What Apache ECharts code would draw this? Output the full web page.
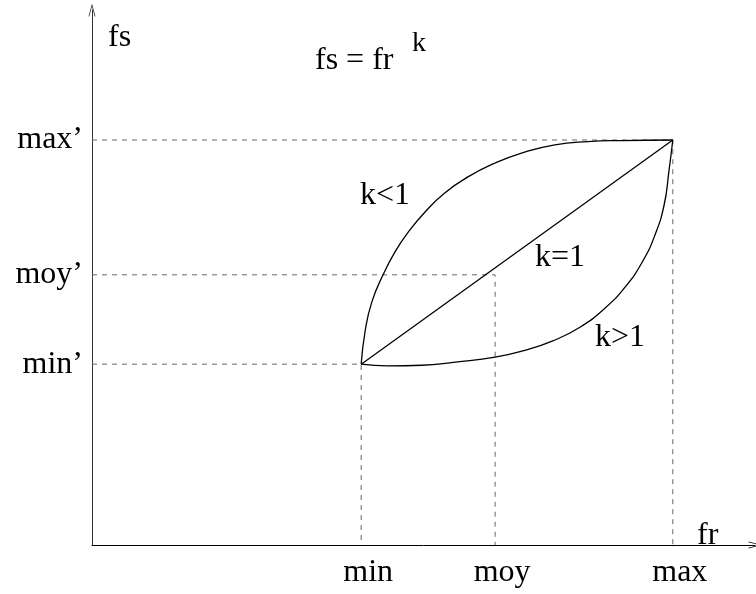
<!DOCTYPE html>
<html>
<head>
<meta charset="utf-8">
<script src="https://cdn.jsdelivr.net/npm/echarts@6/dist/echarts.min.js"></script>
<style>
  html, body { margin: 0; padding: 0; background: #fff; }
  #chart { width: 756px; height: 594px; }
</style>
</head>
<body>
<div id="chart"></div>
<script>
// axis marks (fr horizontal, fs vertical), in a 0..100 frame
var frTicks = [40.6, 60.8, 87.6];
var frLabels = ['min', 'moy', 'max'];
var fsTicks = [33.8, 50.5, 75.7];
var fsLabels = ['min\u2019', 'moy\u2019', 'max\u2019'];

// k < 1 curve (bows up-left)
var curveBelow = [
    [40.6, 33.8], [41.2, 40.0], [42.2, 45.4], [43.9, 50.5], [45.7, 54.8],
    [47.7, 58.5], [50.2, 62.2], [53.2, 65.8], [56.7, 68.8], [60.8, 71.4],
    [64.9, 73.3], [69.8, 74.8], [74.8, 75.4], [79.9, 75.6], [87.6, 75.7]
];
// k = 1 straight line
var curveEqual = [[40.6, 33.8], [87.6, 75.7]];
// k > 1 curve (bows down-right)
var curveAbove = [
    [40.6, 33.8], [44.6, 33.5], [49.8, 33.6], [54.8, 34.2], [60.8, 35.1],
    [65.3, 36.4], [69.4, 38.1], [73.6, 40.7], [77.4, 44.3], [80.4, 48.2],
    [83.0, 52.9], [84.9, 57.9], [86.3, 63.6], [87.0, 69.7], [87.6, 75.7]
];

var font = 'Liberation Serif';
var arrow = 'path://M0,13 L3.5,0 L7,13 L6.2,13 L3.5,3 L0.8,13 Z';

var chart = echarts.init(document.getElementById('chart'), null, {renderer: 'canvas'});

// dashed guide lines from each axis to the matching point
var guides = frTicks.map(function (x, i) {
    var y = fsTicks[i];
    return {
        type: 'line',
        data: [[0, y], [x, y], [x, 0]],
        symbol: 'none',
        silent: true,
        lineStyle: {color: '#666', width: 1, type: [5, 5]}
    };
});

function curve(data) {
    return {
        type: 'line',
        data: data,
        symbol: 'none',
        smooth: 0.5,
        silent: true,
        lineStyle: {color: '#000', width: 1.3}
    };
}

function txt(str, left, baseline, size) {
    return {
        type: 'text',
        left: left,
        top: baseline - (size || 32) * 0.9,
        style: {text: str, fill: '#000', font: (size || 32) + 'px "' + font + '"'}
    };
}

chart.setOption({
    backgroundColor: '#fff',
    animation: false,
    grid: {left: 92, right: 1, top: 10, bottom: 49},
    xAxis: {
        type: 'value',
        min: 0,
        max: 100,
        splitLine: {show: false},
        axisTick: {show: false},
        axisLine: {
            lineStyle: {color: '#000', width: 1},
            symbol: ['none', arrow],
            symbolSize: [7, 13]
        },
        axisLabel: {
            customValues: frTicks,
            formatter: function (v) {
                var i = frTicks.indexOf(v);
                return i < 0 ? '' : frLabels[i];
            },
            fontFamily: font,
            fontSize: 32,
            color: '#000',
            margin: 12,
            padding: [0, 0, 0, 14]
        }
    },
    yAxis: {
        type: 'value',
        min: 0,
        max: 100,
        splitLine: {show: false},
        axisTick: {show: false},
        axisLine: {
            lineStyle: {color: '#333', width: 1},
            symbol: ['none', arrow],
            symbolSize: [7, 13]
        },
        axisLabel: {
            customValues: fsTicks,
            formatter: function (v) {
                var i = fsTicks.indexOf(v);
                return i < 0 ? '' : fsLabels[i];
            },
            fontFamily: font,
            fontSize: 32,
            color: '#000',
            margin: 9
        }
    },
    graphic: [
        txt('fs', 108, 50),
        txt('fr', 697, 548),
        txt('fs = fr', 315, 73),
        txt('k', 412, 55, 28),
        txt('k<1', 360, 208),
        txt('k=1', 535, 270),
        txt('k>1', 595, 350)
    ],
    series: guides.concat([curve(curveBelow), curve(curveEqual), curve(curveAbove)])
});
</script>
</body>
</html>
